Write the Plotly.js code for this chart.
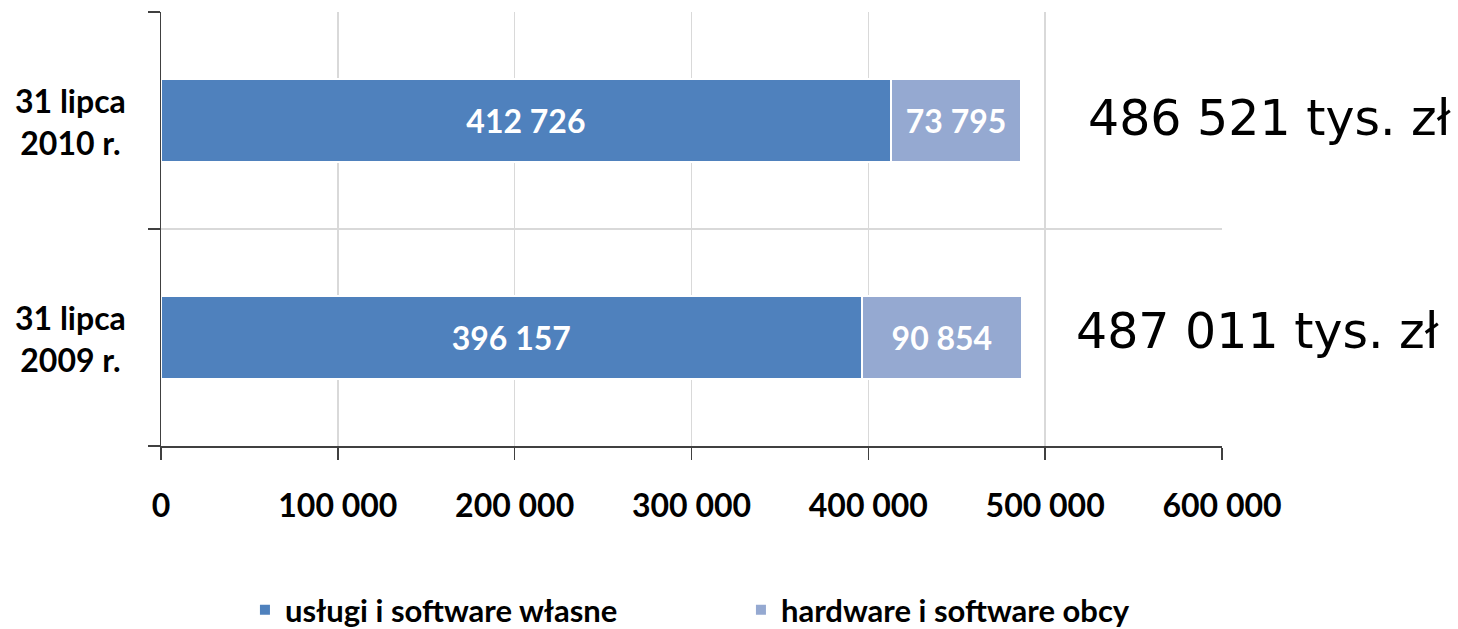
<!DOCTYPE html>
<html>
<head>
<meta charset="utf-8">
<script src="https://cdn.plot.ly/plotly-3.0.1.min.js"></script>
<style>
  html, body { margin: 0; padding: 0; background: #ffffff; }
  #chart { width: 1458px; height: 629px; }
</style>
</head>
<body>
<div id="chart"></div>
<script>
// Categories (bottom to top, as Plotly orders category axes)
const categories = ['31 lipca<br>2009 r.', '31 lipca<br>2010 r.'];
// Series values (tys. zł)
const ownValues = [396157, 412726];      // usługi i software własne
const foreignValues = [90854, 73795];    // hardware i software obcy
const seriesNames = ['usługi i software własne', 'hardware i software obcy'];
const xTickValues = [0, 100000, 200000, 300000, 400000, 500000, 600000];

function fmtSpace(n) {
  return String(n).replace(/\B(?=(\d{3})+(?!\d))/g, ' ');
}
const totals = ownValues.map((v, i) => v + foreignValues[i]);

const labelFont = {family: 'Lato, "Open Sans", sans-serif', size: 32, weight: 'bold', color: '#000000'};
const legendFont = {family: 'Lato, "Open Sans", sans-serif', size: 31, weight: 'bold', color: '#000000'};

const traces = [
  {
    type: 'bar', orientation: 'h', name: seriesNames[0],
    y: categories, x: ownValues,
    marker: {color: '#4f81bd', line: {color: '#ffffff', width: 2}},
    texttemplate: '%{x:,d}', textposition: 'inside', insidetextanchor: 'middle',
    textfont: {family: labelFont.family, size: 32, weight: 'bold', color: '#ffffff'},
    constraintext: 'none', hoverinfo: 'x+name'
  },
  {
    type: 'bar', orientation: 'h', name: seriesNames[1],
    y: categories, x: foreignValues,
    marker: {color: '#95a9d1', line: {color: '#ffffff', width: 2}},
    texttemplate: '%{x:,d}', textposition: 'inside', insidetextanchor: 'middle',
    textfont: {family: labelFont.family, size: 32, weight: 'bold', color: '#ffffff'},
    constraintext: 'none', hoverinfo: 'x+name'
  }
];

// Totals to the right of the bars
const annXs = [0.8605, 0.8722];   // 2009, 2010 (paper coordinates)
const annShift = [6, 2];
const annotations = categories.map((c, i) => ({
  xref: 'paper', yref: 'y', x: annXs[i], y: c,
  xanchor: 'left', yanchor: 'middle', yshift: annShift[i],
  text: fmtSpace(totals[i]) + ' tys. zł',
  showarrow: false,
  font: {family: '"DejaVu Sans", Verdana, sans-serif', size: 49, color: '#000000'}
}));
// Category labels (centred, two lines) placed on the category axis
categories.forEach((c) => {
  annotations.push({
    xref: 'paper', yref: 'y', x: (70 - 161) / 1061, y: c,
    xanchor: 'center', yanchor: 'middle', align: 'center', yshift: -1,
    text: c, showarrow: false, font: labelFont
  });
});

const layout = {
  width: 1458, height: 629,
  margin: {l: 161, r: 236, t: 12, b: 183, pad: 0},
  paper_bgcolor: '#ffffff', plot_bgcolor: '#ffffff',
  separators: ', ',
  barmode: 'stack',
  bargap: 0.62,
  showlegend: true,
  legend: {
    orientation: 'h', xref: 'container', yref: 'container',
    x: 0.168, y: 0.03, xanchor: 'left', yanchor: 'middle',
    entrywidth: 451, entrywidthmode: 'pixels',
    font: legendFont, bgcolor: 'rgba(0,0,0,0)', borderwidth: 0,
    traceorder: 'normal'
  },
  xaxis: {
    range: [0, 600000], tickvals: xTickValues, tickformat: ',d',
    showgrid: true, gridcolor: '#d9d9d9', gridwidth: 1.5,
    zeroline: false,
    showline: true, linecolor: '#404040', linewidth: 1.5,
    ticks: 'outside', ticklen: 12, tickwidth: 1.5, tickcolor: '#404040',
    tickfont: labelFont, ticklabelstandoff: 19,
    fixedrange: true
  },
  yaxis: {
    type: 'category', categoryorder: 'array', categoryarray: categories,
    range: [-0.5, 1.5],
    tickson: 'boundaries',
    showticklabels: false,
    showgrid: true, gridcolor: '#d9d9d9', gridwidth: 1.5,
    zeroline: false,
    showline: true, linecolor: '#404040', linewidth: 1.5,
    ticks: 'outside', ticklen: 12, tickwidth: 1.5, tickcolor: '#404040',
    fixedrange: true
  },
  annotations: annotations
};

Plotly.newPlot('chart', traces, layout, {displayModeBar: false, staticPlot: true});
</script>
</body>
</html>
